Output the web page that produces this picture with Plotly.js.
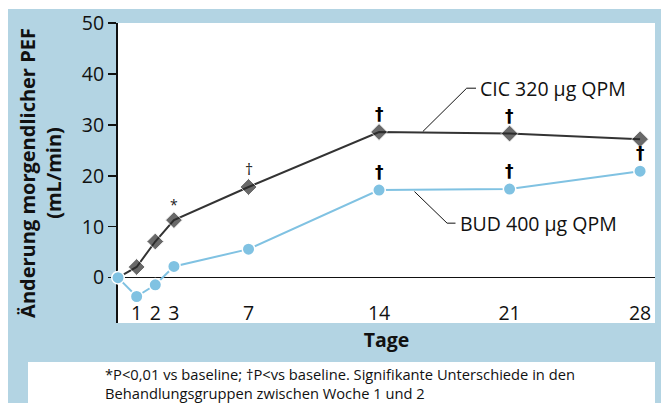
<!DOCTYPE html>
<html><head><meta charset="utf-8">
<script src="https://cdn.plot.ly/plotly-3.0.1.min.js"></script>
<style>
html,body{margin:0;padding:0;background:#fff;}
#wrap{position:relative;width:661px;height:403px;overflow:hidden;}
#bg{position:absolute;left:8px;top:9px;width:653px;height:394px;background:#b3d4e3;}
#cap{position:absolute;left:28px;top:362px;width:627px;height:41px;background:#fff;}
#chart{position:absolute;left:0;top:0;width:661px;height:403px;}
</style></head><body>
<div id="wrap"><div id="bg"></div><div id="cap"></div><div id="chart"></div></div>
<script>
// ---- data ----
const days = [0, 1, 2, 3, 7, 14, 21, 28];
const cicValues = [0, 2.1, 7.1, 11.3, 17.8, 28.6, 28.3, 27.2];
const budValues = [0, -3.7, -1.4, 2.2, 5.6, 17.2, 17.4, 20.9];
const cicSig = ['', '', '', '*', '†', '†', '†', ''];
const budSig = ['', '', '', '', '', '†', '†', '†'];
const xTickVals = [1, 2, 3, 7, 14, 21, 28];
const yTickVals = [-8.9, 0, 10, 20, 30, 40, 50];
const yTickText = ['\u221210', '0', '10', '20', '30', '40', '50'];
const cicName = 'CIC 320 \u03bcg QPM';
const budName = 'BUD 400 \u03bcg QPM';
const xTitle = 'Tage';
const yTitle = 'Änderung morgendlicher PEF<br>(mL/min)';
const caption = '*P<0,01 vs baseline; \u2020P<vs baseline. Signifikante Unterschiede in den<br>Behandlungsgruppen zwischen Woche 1 und 2';
// label anchors and leader paths (data coords)
const cicLabelPos = [19.3, 37.2];
const budLabelPos = [18.25, 10.7];
const cicLeader = [[19.2, 37.2], [18.7, 37.2], [16.35, 28.7]];
const budLeader = [[18.1, 10.7], [17.65, 10.7], [15.9, 16.9]];

const dark = '#333333';
const blue = '#80c2e2';
const FONT = 'Open Sans, sans-serif';

const cicSizes = days.map(d => d === 0 ? 0 : 13);

const traces = [
  {x: days, y: cicValues, type: 'scatter', mode: 'lines+markers', cliponaxis: false,
   line: {color: dark, width: 2},
   marker: {symbol: 'diamond', size: cicSizes, color: '#2a2a2a', line: {color: '#fff', width: 1}},
   hoverinfo: 'skip', showlegend: false},
  {x: days, y: budValues, type: 'scatter', mode: 'lines+markers', cliponaxis: false,
   line: {color: blue, width: 2},
   marker: {symbol: 'circle', size: 12.5, color: blue, line: {color: '#fff', width: 1.5}},
   hoverinfo: 'skip', showlegend: false}
];

const annotations = [];
function sigAnn(vals, sig) {
  sig.forEach((s, i) => {
    if (!s) return;
    const bold = s === '†' && !(vals === cicValues && days[i] === 7);
    annotations.push({x: days[i], y: vals[i], xref: 'x', yref: 'y', text: bold ? '<b>' + s + '</b>' : s,
      showarrow: false, yshift: s === '*' ? 16 : 18,
      font: {family: bold ? 'DejaVu Sans' : FONT, size: s === '*' ? 14 : (bold ? 17 : 16), color: bold ? '#000' : '#222'}});
  });
}
sigAnn(cicValues, cicSig);
sigAnn(budValues, budSig);
annotations.push({x: cicLabelPos[0], y: cicLabelPos[1], xref: 'x', yref: 'y', text: cicName, xanchor: 'left', yanchor: 'middle', showarrow: false, font: {family: FONT, size: 19.5, color: '#111'}});
annotations.push({x: budLabelPos[0], y: budLabelPos[1], xref: 'x', yref: 'y', text: budName, xanchor: 'left', yanchor: 'middle', showarrow: false, font: {family: FONT, size: 19.5, color: '#111'}});
annotations.push({x: (103 - 118) / 537, y: (323 - 362) / 300, xref: 'paper', yref: 'paper', text: caption, xanchor: 'left', yanchor: 'top', align: 'left', showarrow: false, font: {family: FONT, size: 14.7, color: '#111'}});

function pathOf(pts) { return pts.map((p, i) => (i ? 'L' : 'M') + p[0] + ',' + p[1]).join(' '); }
const shapes = [cicLeader, budLeader].map(pts => ({type: 'path', xref: 'x', yref: 'y', path: pathOf(pts), line: {color: '#111', width: 1}}));

const layout = {
  width: 661, height: 403,
  margin: {l: 118, r: 6, t: 23, b: 80},
  paper_bgcolor: 'rgba(0,0,0,0)', plot_bgcolor: '#fff',
  font: {family: FONT, color: '#111'},
  xaxis: {range: [0, 28.8], tickvals: xTickVals, ticks: '', showline: false, showgrid: false, zeroline: false,
    ticklabelposition: 'inside', ticklabelstandoff: -4, tickfont: {size: 19.5, color: '#111'},
    title: {text: '<b>' + xTitle + '</b>', font: {size: 19.5, color: '#111'}, standoff: 7}},
  yaxis: {range: [-8.9, 50], tickvals: yTickVals, ticktext: yTickText, ticks: 'outside', ticklen: 8, tickwidth: 1.5, tickcolor: '#111',
    showline: true, linecolor: '#111', linewidth: 2, showgrid: false, layer: 'below traces',
    zeroline: true, zerolinecolor: '#111', zerolinewidth: 1.3,
    tickfont: {size: 19.5, color: '#111'},
    title: {text: '<b>' + yTitle + '</b>', font: {size: 20, color: '#111'}, standoff: 4}},
  annotations: annotations, shapes: shapes
};
Plotly.newPlot('chart', traces, layout, {displayModeBar: false, staticPlot: true});
</script></body></html>
